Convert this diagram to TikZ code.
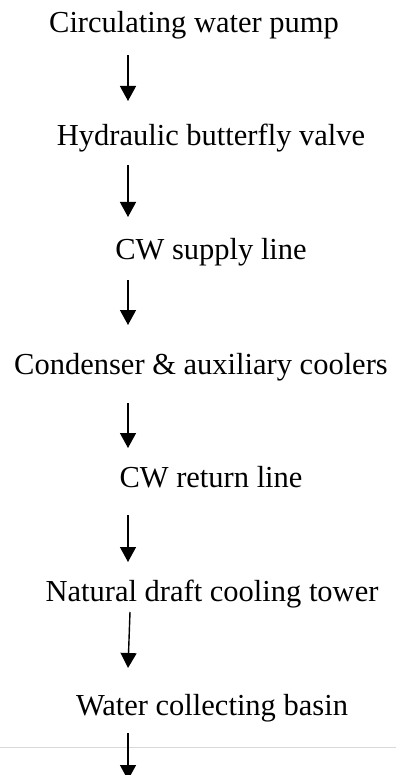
\documentclass[tikz,border=0pt]{standalone}
\usepackage{fontspec}
\setmainfont{Liberation Serif}
\usetikzlibrary{arrows.meta}

\begin{document}
\begin{tikzpicture}[x=1pt, y=-1pt,
		step label/.style={anchor=base, inner sep=0pt, font=\fontsize{30.5}{36}\selectfont},
		flow/.style={line width=1.4pt, -{Triangle[width=16pt,length=15pt]}}]
		\useasboundingbox (0,0) rectangle (396,775);
		% the steps of the cooling water circuit
		\node [step label] (pump) at (194, 33) {Circulating water pump};
		\node [step label] (valve) at (211, 146) {Hydraulic butterfly valve};
		\node [step label] (supply) at (211, 260) {CW supply line};
		\node [step label] (condenser) at (201, 374) {Condenser \& auxiliary coolers};
		\node [step label] (return) at (211, 487) {CW return line};
		\node [step label] (tower) at (212, 601) {Natural draft cooling tower};
		\node [step label] (basin) at (212, 715) {Water collecting basin};
		% arrow ends
		\coordinate (p1) at (128, 55);  \coordinate (q1) at (128, 101);
		\coordinate (p2) at (128, 165); \coordinate (q2) at (128, 217);
		\coordinate (p3) at (128, 280); \coordinate (q3) at (128, 325);
		\coordinate (p4) at (128, 403); \coordinate (q4) at (128, 448);
		\coordinate (p5) at (128, 515); \coordinate (q5) at (128, 562);
		\coordinate (p6) at (130, 612); \coordinate (q6) at (128, 668);
		\coordinate (p7) at (128, 733); \coordinate (q7) at (128, 780);
		% page rule
		\coordinate (ruleL) at (0, 747);
		\coordinate (ruleR) at (396, 747);
		\draw [gray!30, line width=1pt] (ruleL) -- (ruleR);
		\foreach \i in {1,...,7}
			\draw [flow] (p\i) -- (q\i);
	\end{tikzpicture}
\end{document}
